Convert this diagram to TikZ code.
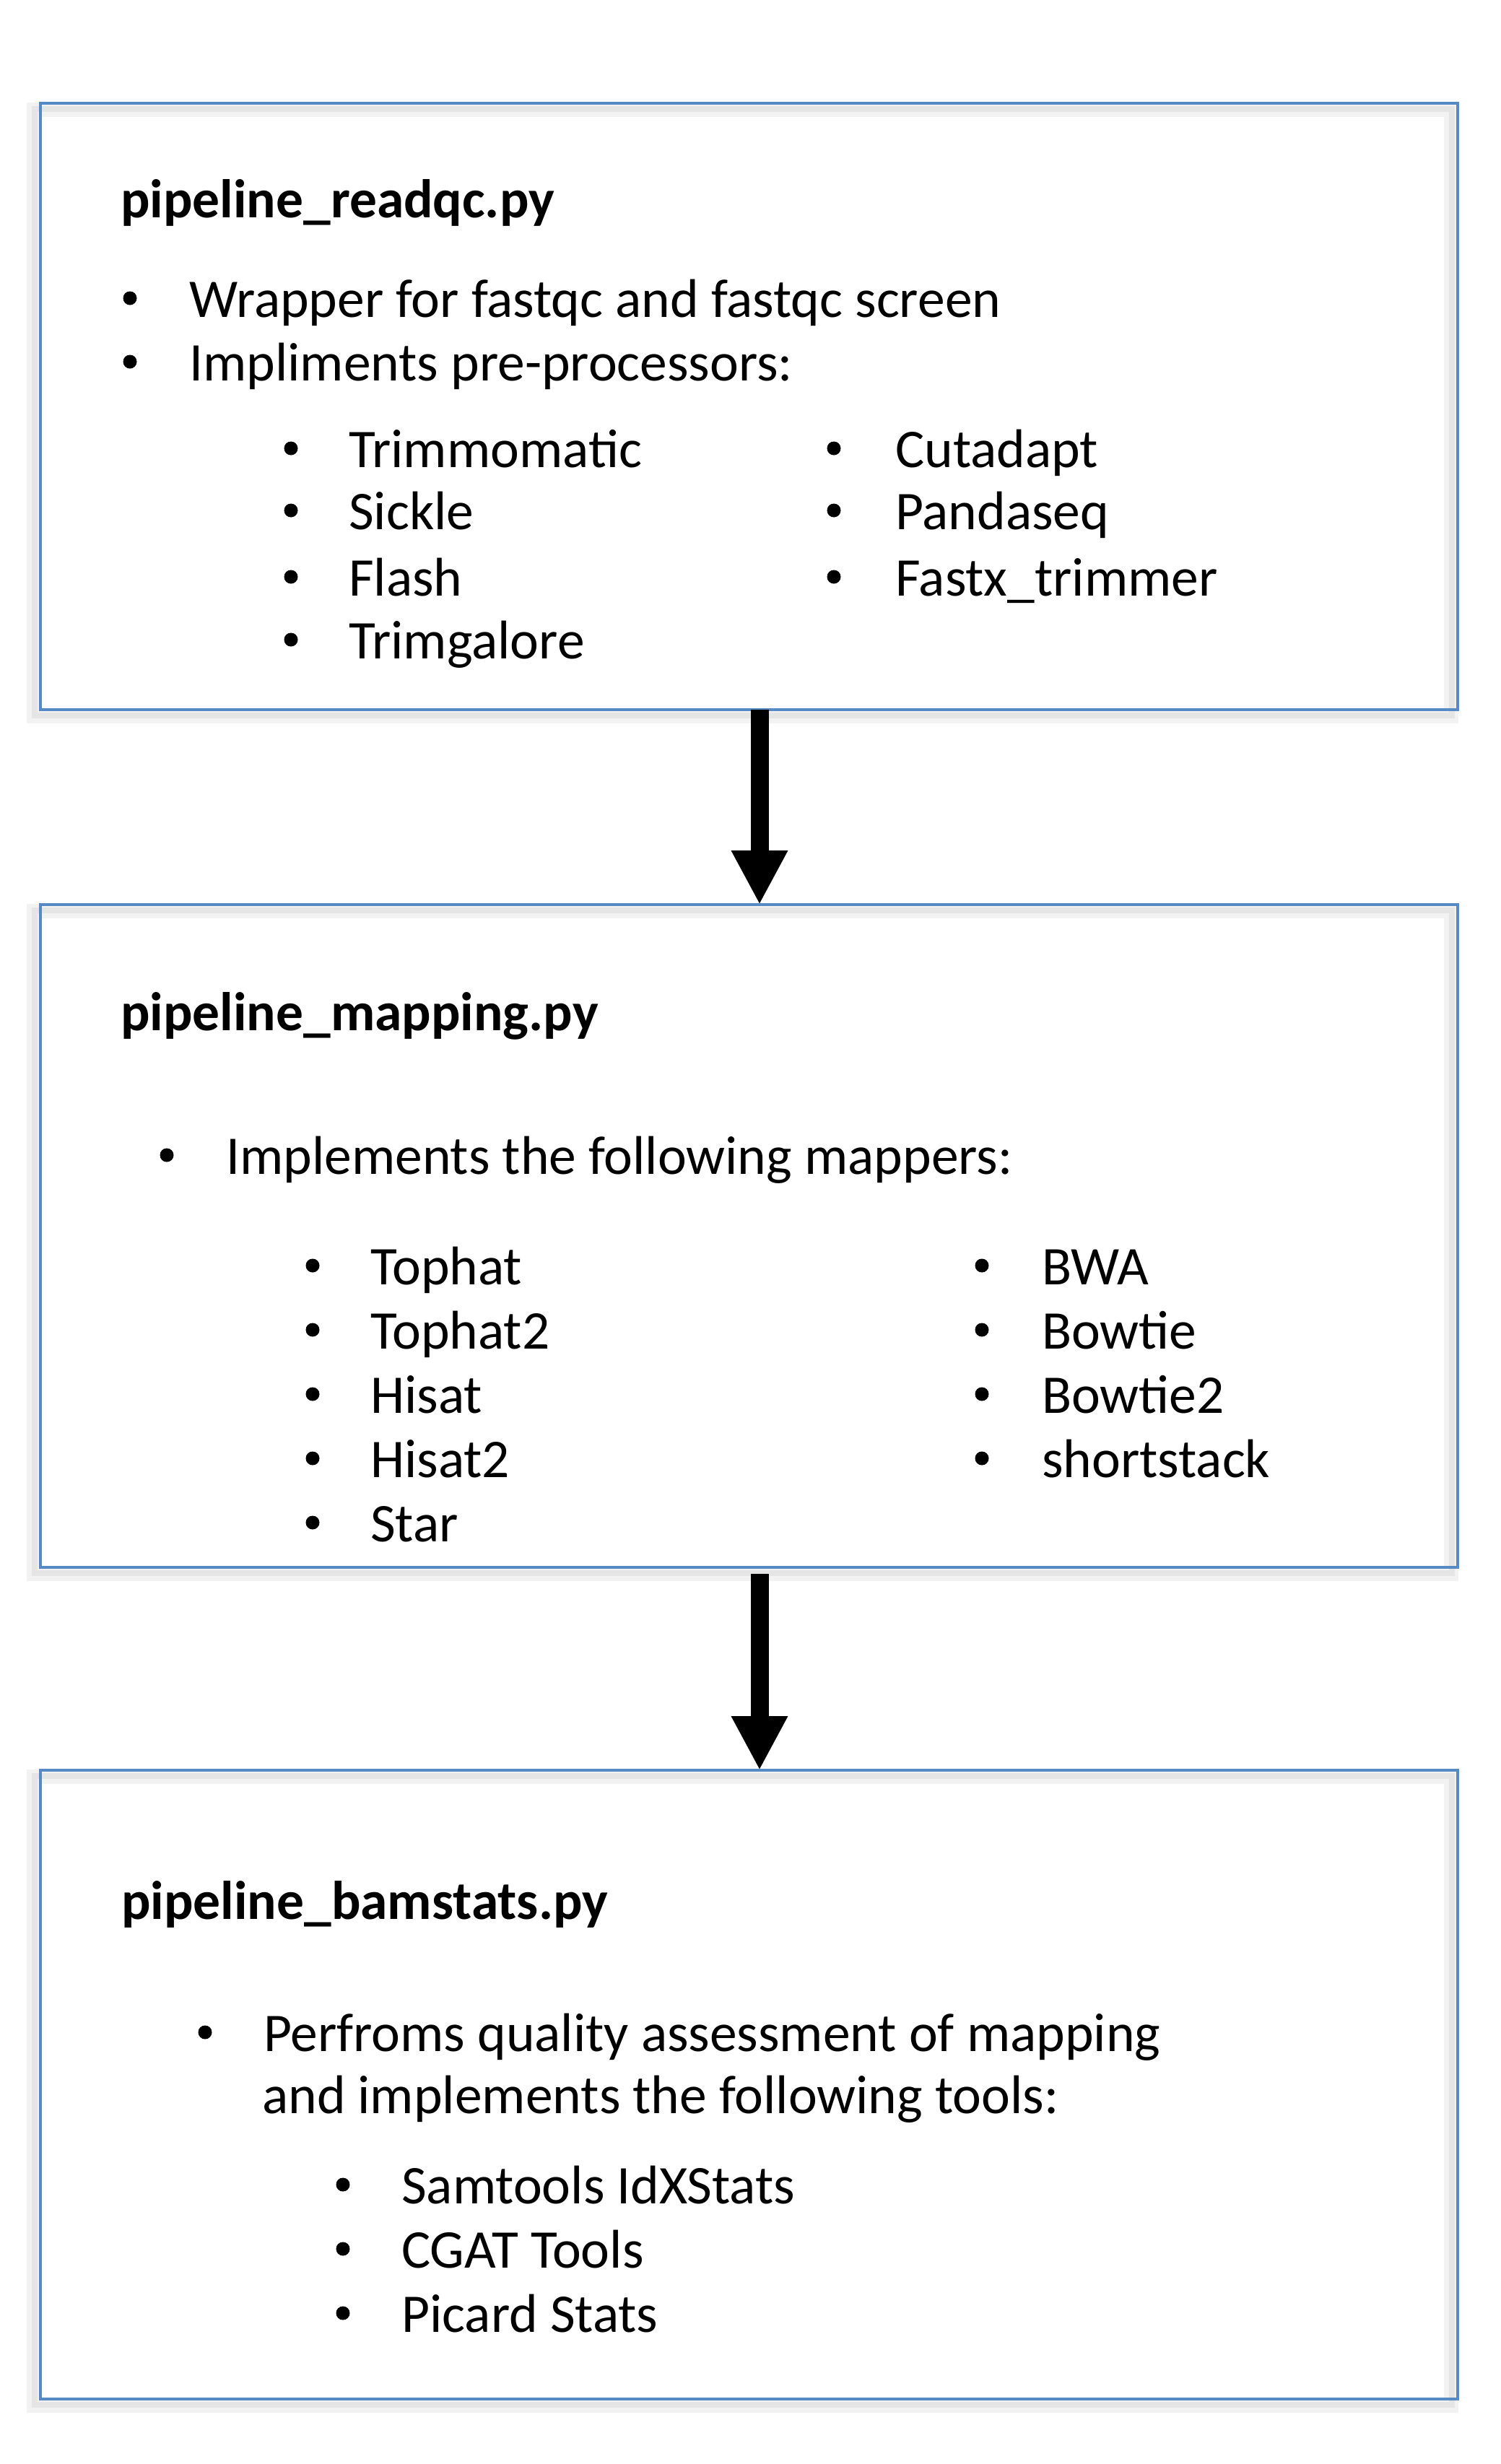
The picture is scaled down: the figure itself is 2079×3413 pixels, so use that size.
\documentclass[tikz,border=0pt]{standalone}
\usepackage{fontspec}
\setmainfont{Carlito}
\usetikzlibrary{arrows.meta}
\definecolor{boxblue}{RGB}{85,138,196}
\begin{document}
\begin{tikzpicture}[x=1pt,y=-1pt,
  box/.style={draw=boxblue, line width=4pt, inner sep=0pt, outer sep=0pt, anchor=north west},
  shadowA/.style={draw=black!5, line width=20pt},
  shadowB/.style={draw=black!10, line width=8pt},
  txt/.style={anchor=base west, inner sep=0pt, font=\fontsize{75.5}{90}\selectfont},
  ttl/.style={anchor=base west, inner sep=0pt, font=\fontsize{75.5}{90}\selectfont\bfseries},
  bul/.style={circle, fill=black, draw=none, inner sep=0pt, minimum size=19pt, yshift=26pt},
  arr/.style={line width=25pt, -{Triangle[width=73pt,length=75pt]}}]
\fill[white] (0,0) rectangle (2079,3413);
\useasboundingbox (0,0) rectangle (2079,3413);

% boxes
\path (56,143) node[box, minimum width=1963pt, minimum height=840pt, draw=none] (b1) {};
\path (56,1253) node[box, minimum width=1963pt, minimum height=918pt, draw=none] (b2) {};
\path (56,2452) node[box, minimum width=1963pt, minimum height=871pt, draw=none] (b3) {};
\foreach \b in {b1,b2,b3}{
  \draw[shadowA] ([shift={(-9,9)}]\b.north west) rectangle ([shift={(-9,9)}]\b.south east);
  \draw[shadowB] ([shift={(-8,8)}]\b.north west) rectangle ([shift={(-8,8)}]\b.south east);
  \draw[draw=boxblue, line width=4pt] (\b.north west) rectangle (\b.south east);
}

% arrows
\coordinate (ax) at (1052,0);
\draw[arr] (b1.south -| ax) -- (b2.north -| ax);
\draw[arr] ([yshift=-9pt]b2.south -| ax) -- (b3.north -| ax);

% box 1
\node[ttl] (t1) at (167,301) {pipeline\_readqc.py};
\node[bul] (p1a) at (180,439) {};
\node[txt] (l1a) at (262,439) {Wrapper for fastqc and fastqc screen};
\node[bul] (p1b) at (180,527) {};
\node[txt] (l1b) at (262,527) {Impliments pre-processors:};
\node[bul] (q1a) at (403,647) {};
\node[txt] (s1a) at (483,647) {Trimmomatic};
\node[bul] (q1b) at (403,733) {};
\node[txt] (s1b) at (483,733) {Sickle};
\node[bul] (q1c) at (403,825) {};
\node[txt] (s1c) at (483,825) {Flash};
\node[bul] (q1d) at (403,912) {};
\node[txt] (s1d) at (483,912) {Trimgalore};
\node[bul] (r1a) at (1155,647) {};
\node[txt] (u1a) at (1240,647) {Cutadapt};
\node[bul] (r1b) at (1155,733) {};
\node[txt] (u1b) at (1240,733) {Pandaseq};
\node[bul] (r1c) at (1155,825) {};
\node[txt] (u1c) at (1240,825) {Fastx\_trimmer};

% box 2
\node[ttl] (t2) at (167,1427) {pipeline\_mapping.py};
\node[bul] (p2a) at (231,1626) {};
\node[txt] (l2a) at (313,1626) {Implements the following mappers:};
\node[bul] (q2a) at (433,1779) {};
\node[txt] (s2a) at (513,1779) {Tophat};
\node[bul] (q2b) at (433,1868) {};
\node[txt] (s2b) at (513,1868) {Tophat2};
\node[bul] (q2c) at (433,1957) {};
\node[txt] (s2c) at (513,1957) {Hisat};
\node[bul] (q2d) at (433,2046) {};
\node[txt] (s2d) at (513,2046) {Hisat2};
\node[bul] (q2e) at (433,2135) {};
\node[txt] (s2e) at (513,2135) {Star};
\node[bul] (r2a) at (1360,1779) {};
\node[txt] (u2a) at (1443,1779) {BWA};
\node[bul] (r2b) at (1360,1868) {};
\node[txt] (u2b) at (1443,1868) {Bowtie};
\node[bul] (r2c) at (1360,1957) {};
\node[txt] (u2c) at (1443,1957) {Bowtie2};
\node[bul] (r2d) at (1360,2046) {};
\node[txt] (u2d) at (1443,2046) {shortstack};

% box 3
\node[ttl] (t3) at (168,2658) {pipeline\_bamstats.py};
\node[bul] (p3a) at (284,2841) {};
\node[txt] (l3a) at (365,2841) {Perfroms quality assessment of mapping};
\node[txt] (l3b) at (363,2927) {and implements the following tools:};
\node[bul] (q3a) at (475,3052) {};
\node[txt] (s3a) at (556,3052) {Samtools IdXStats};
\node[bul] (q3b) at (475,3141) {};
\node[txt] (s3b) at (556,3141) {CGAT Tools};
\node[bul] (q3c) at (475,3230) {};
\node[txt] (s3c) at (556,3230) {Picard Stats};
\end{tikzpicture}
\end{document}
